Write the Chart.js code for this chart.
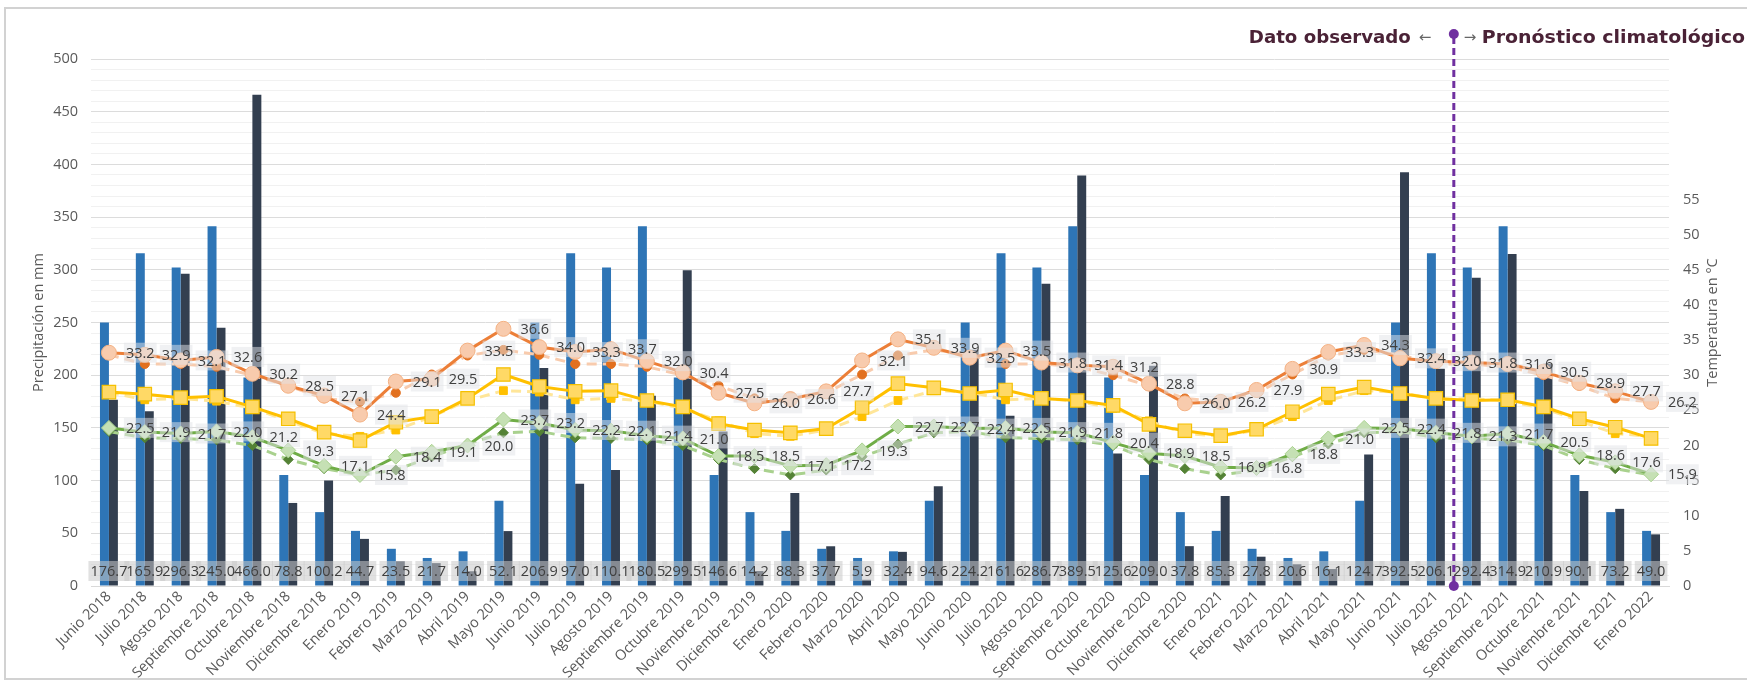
<!DOCTYPE html>
<html><head><meta charset="utf-8">
<script src="https://cdn.jsdelivr.net/npm/chart.js@4/dist/chart.umd.min.js"></script>
<style>html,body{margin:0;padding:0;background:#fff}#wrap{width:1747px;height:684px;position:relative}</style>
</head><body><div id="wrap"><canvas id="c" width="1747" height="684"></canvas></div>
<script>
const months = ["Junio 2018","Julio 2018","Agosto 2018","Septiembre 2018","Octubre 2018","Noviembre 2018","Diciembre 2018","Enero 2019","Febrero 2019","Marzo 2019","Abril 2019","Mayo 2019","Junio 2019","Julio 2019","Agosto 2019","Septiembre 2019","Octubre 2019","Noviembre 2019","Diciembre 2019","Enero 2020","Febrero 2020","Marzo 2020","Abril 2020","Mayo 2020","Junio 2020","Julio 2020","Agosto 2020","Septiembre 2020","Octubre 2020","Noviembre 2020","Diciembre 2020","Enero 2021","Febrero 2021","Marzo 2021","Abril 2021","Mayo 2021","Junio 2021","Julio 2021","Agosto 2021","Septiembre 2021","Octubre 2021","Noviembre 2021","Diciembre 2021","Enero 2022"];

const precipNormal = [250.1,315.6,302.1,341.4,197.9,105.2,70.1,52.3,35.3,26.6,32.9,80.8,
  250.1,315.6,302.1,341.4,197.9,105.2,70.1,52.3,35.3,26.6,32.9,80.8,
  250.1,315.6,302.1,341.4,197.9,105.2,70.1,52.3,35.3,26.6,32.9,80.8,
  250.1,315.6,302.1,341.4,197.9,105.2,70.1,52.3];

const precipObs = [176.7,165.9,296.3,245.0,466.0,78.8,100.2,44.7,23.5,21.7,14.0,52.1,206.9,97.0,110.1,180.5,299.5,146.6,14.2,88.3,37.7,5.9,32.4,94.6,224.2,161.6,286.7,389.5,125.6,209.0,37.8,85.3,27.8,20.6,16.1,124.7,392.5,206.1,292.4,314.9,210.9,90.1,73.2,49.0];

const tmaxObs = [33.2,32.9,32.1,32.6,30.2,28.5,27.1,24.4,29.1,29.5,33.5,36.6,34.0,33.3,33.7,32.0,30.4,27.5,26.0,26.6,27.7,32.1,35.1,33.9,32.5,33.5,31.8,31.4,31.2,28.8,26.0,26.2,27.9,30.9,33.3,34.3,32.4,32.0,31.8,31.6,30.5,28.9,27.7,26.2];
const tmaxNorm = [32.9,31.6,31.6,31.2,30.0,28.5,26.7,26.2,27.5,30.1,32.8,33.6,
  32.9,31.6,31.6,31.2,30.0,28.5,26.7,26.2,27.5,30.1,32.8,33.6,
  32.9,31.6,31.6,31.2,30.0,28.5,26.7,26.2,27.5,30.1,32.8,33.6,
  32.9,31.6,31.6,31.2,30.0,28.5,26.7,26.2];

const tmeanObs = [27.6,27.3,26.8,27.0,25.5,23.8,21.9,20.7,23.3,24.1,26.7,30.1,28.4,27.7,27.8,26.4,25.5,23.1,22.2,21.8,22.4,25.4,28.8,28.2,27.4,27.9,26.7,26.4,25.7,23.0,22.1,21.4,22.3,24.8,27.3,28.3,27.4,26.7,26.4,26.5,25.5,23.8,22.6,21.0];
const tmeanNorm = [27.6,26.5,26.7,26.3,25.3,23.5,21.7,21.3,22.2,24.1,26.4,27.8,
  27.6,26.5,26.7,26.3,25.3,23.5,21.7,21.3,22.2,24.1,26.4,27.8,
  27.6,26.5,26.7,26.3,25.3,23.5,21.7,21.3,22.2,24.1,26.4,27.8,
  27.6,26.5,26.7,26.3,25.3,23.5,21.7,21.3];

const tminObs = [22.5,21.9,21.7,22.0,21.2,19.3,17.1,15.8,18.4,19.1,20.0,23.7,23.2,22.2,22.1,21.4,21.0,18.5,18.5,17.1,17.2,19.3,22.7,22.7,22.4,22.5,21.9,21.8,20.4,18.9,18.5,16.9,16.8,18.8,21.0,22.5,22.4,21.8,21.3,21.7,20.5,18.6,17.6,15.9];
const tminNorm = [22.0,21.1,21.0,20.8,20.0,18.0,16.7,15.8,16.5,18.4,20.2,21.8,
  22.0,21.1,21.0,20.8,20.0,18.0,16.7,15.8,16.5,18.4,20.2,21.8,
  22.0,21.1,21.0,20.8,20.0,18.0,16.7,15.8,16.5,18.4,20.2,21.8,
  22.0,21.1,21.0,20.8,20.0,18.0,16.7,15.8];

const leftTitle = "Precipitación en mm";
const rightTitle = "Temperatura en °C";
const leftNote = "Dato observado";
const rightNote = "Pronóstico climatológico";
const splitAfter = "Julio 2021";

const FONT = "'Open Sans', 'DejaVu Sans', sans-serif";
const NOTE_FONT = "'DejaVu Sans', 'Open Sans', sans-serif";
Chart.defaults.font.family = FONT;
Chart.defaults.color = '#595959';

function drawLabels(ctx, items, size) {
  ctx.save();
  ctx.font = size + 'px ' + FONT;
  ctx.textBaseline = 'middle';
  items.forEach(it => {
    const w = ctx.measureText(it.t).width;
    const x0 = it.align === 'left' ? it.x : it.x - w / 2;
    ctx.fillStyle = it.bg;
    ctx.fillRect(x0 - 2, it.y - 10, w + 4, 20);
  });
  ctx.fillStyle = '#404040';
  items.forEach(it => {
    ctx.textAlign = it.align;
    ctx.fillText(it.t, it.x, it.y + 1);
  });
  ctx.restore();
}

function fitText(ctx, text, x, y, target) {
  const w = ctx.measureText(text).width;
  const s = Math.max(0.85, Math.min(1.2, target / w));
  ctx.save();
  ctx.translate(x, y);
  ctx.scale(s, 1);
  ctx.textAlign = 'left';
  ctx.fillText(text, 0, 0);
  ctx.restore();
}

const overlay = {
  id: 'overlay',
  afterDatasetsDraw(chart) {
    const ctx = chart.ctx;
    const xs = chart.scales.x, ys = chart.scales.y;
    const bottom = precipObs.map((v, i) => ({t: v.toFixed(1), x: xs.getPixelForValue(i), y: ys.getPixelForValue(0) - 15, align: 'center', bg: 'rgba(200,200,200,0.55)'}));
    drawLabels(ctx, bottom, 14.5);
    [0, 4].forEach(di => {
      const meta = chart.getDatasetMeta(di);
      const vals = chart.data.datasets[di].data;
      const items = meta.data.map((p, i) => ({t: vals[i].toFixed(1), x: p.x + 17, y: p.y, align: 'left', bg: 'rgba(225,228,232,0.5)'}));
      drawLabels(ctx, items, 14.5);
    });
  },
  afterDraw(chart) {
    const ctx = chart.ctx;
    const xs = chart.scales.x, ys = chart.scales.y;
    const area = chart.chartArea;
    ctx.save();
    ctx.strokeStyle = '#d2d2d2';
    ctx.lineWidth = 2;
    ctx.strokeRect(5, 8, 1770, 671);
    ctx.fillStyle = '#595959';
    ctx.font = '14.5px ' + FONT;
    ctx.textAlign = 'center';
    ctx.textBaseline = 'middle';
    const cy = (area.top + area.bottom) / 2;
    ctx.save(); ctx.translate(39, cy); ctx.rotate(-Math.PI / 2); ctx.fillText(leftTitle, 0, 0); ctx.restore();
    ctx.save(); ctx.translate(1713, cy); ctx.rotate(-Math.PI / 2); ctx.fillText(rightTitle, 0, 0); ctx.restore();
    const k = months.indexOf(splitAfter);
    const lx = (xs.getPixelForValue(k) + xs.getPixelForValue(k + 1)) / 2;
    const y0 = ys.getPixelForValue(0);
    const topY = 34;
    ctx.strokeStyle = '#7030a0';
    ctx.lineWidth = 3;
    ctx.setLineDash([7, 4]);
    ctx.beginPath(); ctx.moveTo(lx, topY + 3); ctx.lineTo(lx, y0 - 3); ctx.stroke();
    ctx.setLineDash([]);
    ctx.fillStyle = '#7030a0';
    ctx.beginPath(); ctx.arc(lx, topY, 5, 0, Math.PI * 2); ctx.fill();
    ctx.beginPath(); ctx.arc(lx, y0, 5, 0, Math.PI * 2); ctx.fill();
    // notes
    const base = 43;
    ctx.textBaseline = 'alphabetic';
    ctx.font = '15px ' + FONT;
    ctx.fillStyle = '#666666';
    ctx.textAlign = 'left';
    ctx.fillText('←', lx - 35, base - 1);
    ctx.fillText('→', lx + 10, base - 1);
    ctx.font = 'bold 18px ' + NOTE_FONT;
    ctx.fillStyle = '#4a2236';
    fitText(ctx, leftNote, lx - 205, base, 162);
    fitText(ctx, rightNote, lx + 28, base, 1745 - (lx + 28));
    ctx.restore();
  }
};

const ctx = document.getElementById('c').getContext('2d');
new Chart(ctx, {
  type: 'bar',
  data: {
    labels: months,
    datasets: [
      {type: 'line', label: 'Temperatura máxima observada', data: tmaxObs, yAxisID: 'y1', order: 1,
        borderColor: '#ec7f38', borderWidth: 3, tension: 0, pointStyle: 'circle', pointRadius: 7.5,
        pointBackgroundColor: '#f8cbad', pointBorderColor: '#f4b183', pointBorderWidth: 1},
      {type: 'line', label: 'Temperatura media observada', data: tmeanObs, yAxisID: 'y1', order: 2,
        borderColor: '#ffc000', borderWidth: 3, tension: 0, pointStyle: 'rect', pointRadius: 9.5,
        pointBackgroundColor: '#ffd966', pointBorderColor: '#f5c000', pointBorderWidth: 1.2},
      {type: 'line', label: 'Temperatura máxima normal', data: tmaxNorm, yAxisID: 'y1', order: 4,
        borderColor: '#f8cbad', borderWidth: 3, borderDash: [10, 6], tension: 0, pointStyle: 'circle', pointRadius: 4.5,
        pointBackgroundColor: '#e2701f', pointBorderColor: '#e2701f', pointBorderWidth: 1},
      {type: 'line', label: 'Temperatura media normal', data: tmeanNorm, yAxisID: 'y1', order: 5,
        borderColor: '#ffe699', borderWidth: 3, borderDash: [10, 6], tension: 0, pointStyle: 'rect', pointRadius: 5.5,
        pointBackgroundColor: '#ffc000', pointBorderColor: '#ffc000', pointBorderWidth: 1},
      {type: 'line', label: 'Temperatura mínima observada', data: tminObs, yAxisID: 'y1', order: 3,
        borderColor: '#70ad47', borderWidth: 3, tension: 0, pointStyle: 'rectRot', pointRadius: 7.5,
        pointBackgroundColor: '#c5e0b4', pointBorderColor: '#a9d18e', pointBorderWidth: 1},
      {type: 'line', label: 'Temperatura mínima normal', data: tminNorm, yAxisID: 'y1', order: 6,
        borderColor: '#a9d18e', borderWidth: 3, borderDash: [10, 6], tension: 0, pointStyle: 'rectRot', pointRadius: 5,
        pointBackgroundColor: '#548235', pointBorderColor: '#548235', pointBorderWidth: 1},
      {label: 'Precipitación normal', data: precipNormal, yAxisID: 'y', order: 10, backgroundColor: '#2e75b6'},
      {label: 'Precipitación observada', data: precipObs, yAxisID: 'y', order: 10, backgroundColor: '#333f50'}
    ]
  },
  options: {
    responsive: false, animation: false, devicePixelRatio: 1,
    layout: {padding: {top: 59, left: 0, right: 0, bottom: 0}},
    plugins: {legend: {display: false}, tooltip: {enabled: false}},
    datasets: {bar: {categoryPercentage: 0.5, barPercentage: 1.0}},
    scales: {
      x: {
        grid: {display: false, drawTicks: false},
        border: {display: true, color: '#d9d9d9', width: 1},
        ticks: {maxRotation: 45, minRotation: 45, autoSkip: false, padding: 2, font: {size: 14.5}, color: '#595959'},
        afterFit(s) { s.height = 98; }
      },
      y: {
        position: 'left', min: 0, max: 500,
        ticks: {stepSize: 10, autoSkip: false, maxTicksLimit: 100, callback: v => (v % 50 === 0 ? v : ''), padding: 13, font: {size: 14.5}, color: '#595959'},
        grid: {color: c => (c.tick && c.tick.value % 50 === 0 ? '#dcdcdc' : '#f1f1f1'), drawTicks: false, lineWidth: 1},
        border: {display: false},
        afterFit(s) { s.width = 91; }
      },
      y1: {
        position: 'right', min: 0, max: 75,
        ticks: {stepSize: 5, autoSkip: false, callback: v => (v <= 55 ? v : ''), padding: 14, font: {size: 14.5}, color: '#595959'},
        grid: {display: false, drawTicks: false},
        border: {display: false},
        afterFit(s) { s.width = 78; }
      }
    }
  },
  plugins: [overlay]
});
</script>
</body></html>
